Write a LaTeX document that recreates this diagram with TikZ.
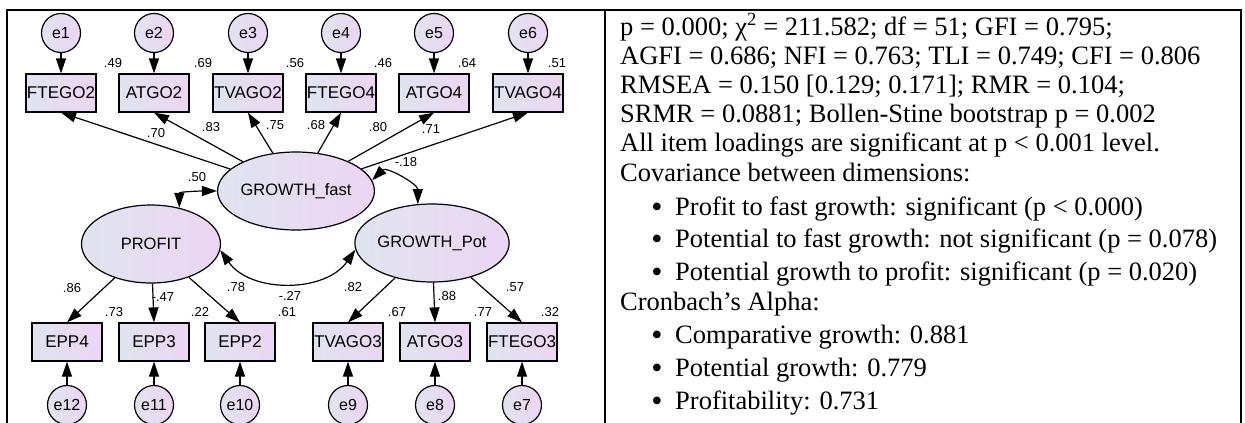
\documentclass[tikz,border=0pt]{standalone}
\usepackage{fontspec}
\setmainfont{Liberation Serif}
\newfontfamily\amosfont{Liberation Sans}
\usetikzlibrary{arrows.meta,shapes.geometric}
\definecolor{amosL}{RGB}{224,228,240}
\definecolor{amosR}{RGB}{236,213,243}
\newcommand{\blt}{\raisebox{-2.5pt}{•}}
\tikzset{
  obs/.style={draw,line width=1.2pt,left color=amosL,right color=amosR,minimum width=70pt,minimum height=38pt,inner sep=0pt,font=\amosfont\fontsize{17}{17}\selectfont},
  lat/.style={draw,ellipse,line width=1.2pt,left color=amosL,right color=amosR,minimum width=139pt,minimum height=78pt,inner sep=0pt,font=\amosfont\fontsize{16.5}{17}\selectfont},
  err/.style={draw,circle,line width=1.2pt,left color=amosL,right color=amosR,minimum size=39pt,inner sep=0pt,font=\amosfont\fontsize{16}{16}\selectfont},
  load/.style={-{Triangle[length=15pt,width=10pt]},line width=1.2pt},
  cov/.style={{Triangle[length=15pt,width=10pt]}-{Triangle[length=15pt,width=10pt]},line width=1.2pt},
  est/.style={inner sep=0pt,font=\amosfont\fontsize{13}{13}\selectfont},
  txt/.style={anchor=base west,inner sep=0pt,font=\fontsize{26.5}{30}\selectfont},
  bul/.style={anchor=base,inner sep=0pt,font=\fontsize{32}{30}\selectfont}
}
\begin{document}
\begin{tikzpicture}[x=1pt,y=-1pt]
\useasboundingbox (0,0) rectangle (1245,423);
%table
\coordinate (tl) at (7,10);
\coordinate (tm) at (605,10);
\coordinate (tr) at (1241,10);
\draw[line width=2pt] (tl|-0,423)--(tl)--(tr)--(tr|-0,423);
\draw[line width=1.5pt] (tm)--(tm|-0,423);
%latent variables
\node[lat] (gf) at (296,191) {GROWTH\_fast};
\node[lat] (pr) at (151,244) {PROFIT};
\node[lat] (gp) at (432,243) {GROWTH\_Pot};
%indicators
\node[obs] (ftego2) at (61,93) {FTEGO2};
\node[obs] (atgo2) at (154,93) {ATGO2};
\node[obs] (tvago2) at (248,93) {TVAGO2};
\node[obs] (ftego4) at (341,93) {FTEGO4};
\node[obs] (atgo4) at (434,93) {ATGO4};
\node[obs] (tvago4) at (528,93) {TVAGO4};
\node[obs] (epp4) at (67,342) {EPP4};
\node[obs] (epp3) at (154,342) {EPP3};
\node[obs] (epp2) at (240,342) {EPP2};
\node[obs] (tvago3) at (348,342) {TVAGO3};
\node[obs] (atgo3) at (435,342) {ATGO3};
\node[obs] (ftego3) at (522,342) {FTEGO3};
%errors
\node[err] (e1) at (61,33) {e1};
\node[err] (e2) at (154,33) {e2};
\node[err] (e3) at (248,33) {e3};
\node[err] (e4) at (341,33) {e4};
\node[err] (e5) at (434,33) {e5};
\node[err] (e6) at (528,33) {e6};
\node[err] (e12) at (67,405) {e12};
\node[err] (e11) at (154,405) {e11};
\node[err] (e10) at (240,405) {e10};
\node[err] (e9) at (348,405) {e9};
\node[err] (e8) at (435,405) {e8};
\node[err] (e7) at (522,405) {e7};
\draw[load] (e1)--(ftego2);
\draw[load] (e2)--(atgo2);
\draw[load] (e3)--(tvago2);
\draw[load] (e4)--(ftego4);
\draw[load] (e5)--(atgo4);
\draw[load] (e6)--(tvago4);
\draw[load] (e12)--(epp4);
\draw[load] (e11)--(epp3);
\draw[load] (e10)--(epp2);
\draw[load] (e9)--(tvago3);
\draw[load] (e8)--(atgo3);
\draw[load] (e7)--(ftego3);
%loadings
\draw[load] (gf)--(ftego2.south);
\draw[load] (gf)--(atgo2.south);
\draw[load] (gf)--(tvago2.south);
\draw[load] (gf)--(ftego4.south);
\draw[load] (gf)--(atgo4.south);
\draw[load] (gf)--(tvago4.south);
\draw[load] (pr)--(epp4.north);
\draw[load] (pr)--(epp3.north);
\draw[load] (pr)--(epp2.north);
\draw[load] (gp)--(tvago3.north);
\draw[load] (gp)--(atgo3.north);
\draw[load] (gp)--(ftego3.north);
%covariances
\draw[cov] (pr.52) to[out=90,in=180] (gf.west);
\draw[cov] (gf.8) to[out=45,in=90] (gp.110);
\draw[cov] (pr.-5) to[out=-55,in=-125] (gp.185);
%estimates
\node[est] (r1) at (113,63) {.49};
\node[est] (r2) at (203,63) {.69};
\node[est] (r3) at (295,63) {.56};
\node[est] (r4) at (383,63) {.46};
\node[est] (r5) at (467,63) {.64};
\node[est] (r6) at (557,63) {.51};
\node[est] (l1) at (156,133) {.70};
\node[est] (l2) at (211,127) {.83};
\node[est] (l3) at (275,125) {.75};
\node[est] (l4) at (316,125) {.68};
\node[est] (l5) at (378,127) {.80};
\node[est] (l6) at (431,129) {.71};
\node[est] (l12) at (72,288) {.86};
\node[est] (l11) at (163,297) {-.47};
\node[est] (l10) at (236,287) {.78};
\node[est] (l9) at (353,287) {.82};
\node[est] (l8) at (447,296) {.88};
\node[est] (l7) at (515,287) {.57};
\node[est] (r12) at (114,312) {.73};
\node[est] (r11) at (200,312) {.22};
\node[est] (r10) at (287,312) {.61};
\node[est] (r9) at (397,312) {.67};
\node[est] (r8) at (483,312) {.77};
\node[est] (r7) at (550,312) {.32};
\node[est] (c1) at (197,177) {.50};
\node[est] (c2) at (406,162) {-.18};
\node[est] (c3) at (290,296) {-.27};
%fit text
\node[txt] (t1) at (620,35) {p = 0.000; χ\textsuperscript{2} = 211.582; df = 51; GFI = 0.795;};
\node[txt] (t2) at (620,64) {AGFI = 0.686; NFI = 0.763; TLI = 0.749; CFI = 0.806};
\node[txt] (t3) at (620,93) {RMSEA = 0.150 [0.129; 0.171]; RMR = 0.104;};
\node[txt] (t4) at (620,122) {SRMR = 0.0881; Bollen-Stine bootstrap p = 0.002};
\node[txt] (t5) at (620,151) {All item loadings are significant at p < 0.001 level.};
\node[txt] (t6) at (620,181) {Covariance between dimensions:};
\node[bul] (b7) at (657,215) {\blt};
\node[txt] (t7) at (675,215) {Profit to fast growth: significant (p < 0.000)};
\node[bul] (b8) at (657,247) {\blt};
\node[txt] (t8) at (675,247) {Potential to fast growth: not significant (p = 0.078)};
\node[bul] (b9) at (657,280) {\blt};
\node[txt] (t9) at (675,280) {Potential growth to profit: significant (p = 0.020)};
\node[txt] (t10) at (620,310) {Cronbach’s Alpha:};
\node[bul] (b11) at (657,343) {\blt};
\node[txt] (t11) at (675,343) {Comparative growth: 0.881};
\node[bul] (b12) at (657,376) {\blt};
\node[txt] (t12) at (675,376) {Potential growth: 0.779};
\node[bul] (b13) at (657,409) {\blt};
\node[txt] (t13) at (675,409) {Profitability: 0.731};
\end{tikzpicture}
\end{document}
